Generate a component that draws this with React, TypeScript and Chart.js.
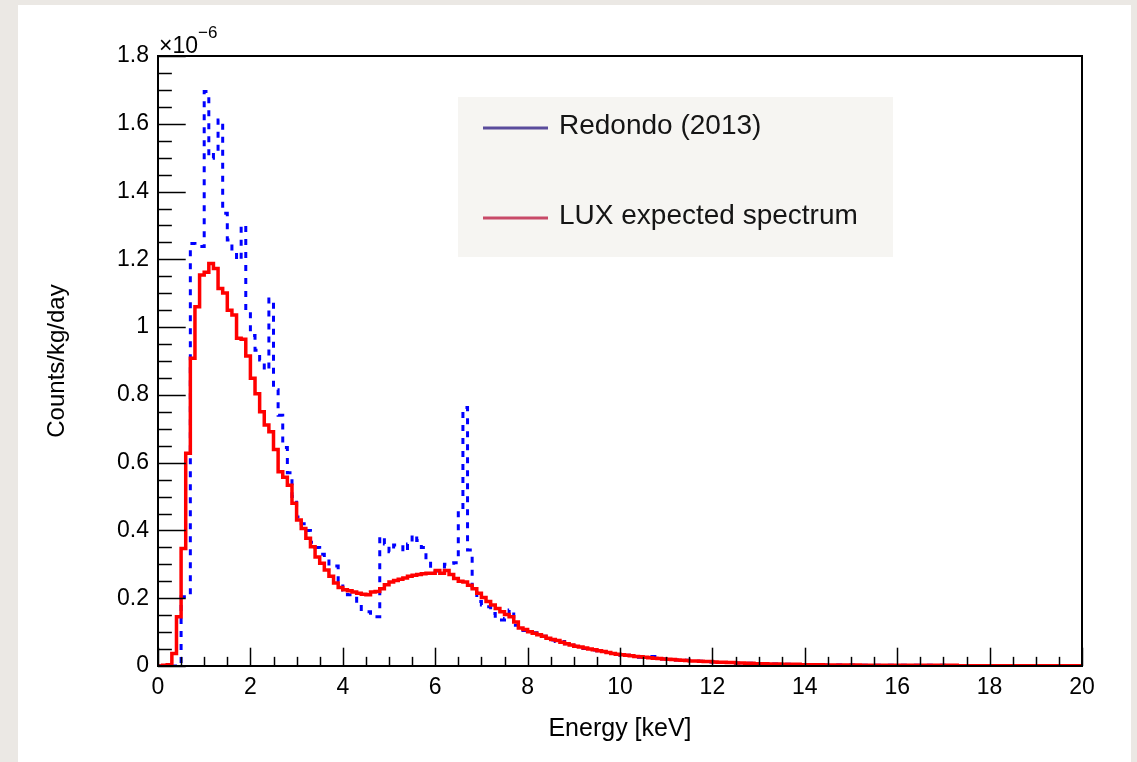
import React, { useEffect, useRef } from "react";
import { Chart, registerables } from "chart.js";

Chart.register(...registerables);

const BIN_WIDTH = 0.1; // keV
const X_MIN = 0;
const X_MAX = 20;
const Y_MIN = 0;
const Y_MAX = 1.8;
const X_MAJOR = 2;
const X_MINOR = 0.5;
const Y_MAJOR = 0.2;
const Y_MINOR = 0.05;

const xTitle = "Energy [keV]";
const yTitle = "Counts/kg/day";
const legendLabels = ["Redondo (2013)", "LUX expected spectrum"];

// values in units of 1e-6 counts/kg/day, one per 0.1 keV bin starting at 0
const luxExpected = [
  0, 0.002, 0.004, 0.037, 0.145, 0.347, 0.628, 0.908, 1.06, 1.154,
  1.162, 1.188, 1.173, 1.114, 1.101, 1.05, 1.036, 0.967, 0.964, 0.915,
  0.849, 0.803, 0.75, 0.711, 0.691, 0.639, 0.573, 0.557, 0.533, 0.48,
  0.431, 0.406, 0.377, 0.352, 0.322, 0.303, 0.283, 0.265, 0.245, 0.232,
  0.225, 0.222, 0.218, 0.215, 0.212, 0.21, 0.218, 0.22, 0.228, 0.24,
  0.248, 0.252, 0.256, 0.26, 0.265, 0.268, 0.27, 0.272, 0.274, 0.274,
  0.282, 0.274, 0.282, 0.27, 0.258, 0.25, 0.248, 0.238, 0.228, 0.215,
  0.202, 0.19, 0.18, 0.17, 0.16, 0.152, 0.145, 0.13, 0.112, 0.108,
  0.101, 0.097, 0.092, 0.088, 0.082, 0.078, 0.075, 0.07, 0.066, 0.062,
  0.058, 0.056, 0.053, 0.05, 0.048, 0.045, 0.043, 0.04, 0.037, 0.035,
  0.033, 0.032, 0.03, 0.028, 0.027, 0.026, 0.024, 0.023, 0.022, 0.021,
  0.02, 0.019, 0.018, 0.017, 0.016, 0.015, 0.015, 0.014, 0.013, 0.013,
  0.012, 0.011, 0.011, 0.01, 0.01, 0.009, 0.009, 0.008, 0.008, 0.007,
  0.007, 0.007, 0.006, 0.006, 0.006, 0.005, 0.005, 0.005, 0.005, 0.004,
  0.004, 0.004, 0.004, 0.004, 0.003, 0.003, 0.003, 0.003, 0.003, 0.003,
  0.003, 0.003, 0.002, 0.002, 0.002, 0.002, 0.002, 0.002, 0.002, 0.002,
  0.002, 0.002, 0.002, 0.002, 0.002, 0.002, 0.002, 0.002, 0.002, 0.002,
  0.002, 0.002, 0.002, 0.001, 0.001, 0.001, 0.001, 0.001, 0.001, 0.001,
  0.001, 0.001, 0.001, 0.001, 0.001, 0.001, 0.001, 0.001, 0.001, 0.001,
  0.001, 0.001, 0.001, 0.001, 0.001, 0.001, 0.001, 0.001, 0.001, 0.001,
];

const redondo2013 = [
  0, 0, 0, 0, 0, 0.204, 0.204, 1.247, 1.24, 1.238,
  1.695, 1.498, 1.515, 1.611, 1.336, 1.257, 1.223, 1.198, 1.301, 1.045,
  0.975, 0.932, 0.903, 0.873, 1.083, 0.815, 0.74, 0.645, 0.57, 0.5,
  0.44, 0.42, 0.4, 0.365, 0.35, 0.33, 0.32, 0.295, 0.295, 0.25,
  0.224, 0.21, 0.2, 0.18, 0.16, 0.16, 0.15, 0.145, 0.382, 0.36,
  0.337, 0.357, 0.357, 0.337, 0.36, 0.387, 0.37, 0.35, 0.313, 0.288,
  0.28, 0.28, 0.3, 0.303, 0.305, 0.46, 0.763, 0.342, 0.222, 0.19,
  0.18, 0.175, 0.155, 0.136, 0.136, 0.14, 0.165, 0.12, 0.112, 0.105,
  0.1, 0.098, 0.095, 0.088, 0.083, 0.077, 0.072, 0.072, 0.066, 0.061,
  0.058, 0.058, 0.052, 0.049, 0.047, 0.045, 0.042, 0.04, 0.038, 0.034,
  0.032, 0.032, 0.031, 0.027, 0.026, 0.027, 0.028, 0.028, 0.025, 0.021,
  0.02, 0.019, 0.018, 0.016, 0.017, 0.016, 0.014, 0.014, 0.013, 0.012,
  0.012, 0.012, 0.01, 0.01, 0.01, 0.009, 0.009, 0.008, 0.008, 0.007,
  0.007, 0.006, 0.006, 0.006, 0.006, 0.005, 0.005, 0.005, 0.004, 0.004,
  0.004, 0.004, 0.004, 0.003, 0.003, 0.003, 0.003, 0.003, 0.003, 0.003,
  0.003, 0.002, 0.002, 0.002, 0.002, 0.002, 0.002, 0.002, 0.002, 0.002,
  0.002, 0.002, 0.002, 0.002, 0.002, 0.002, 0.002, 0.002, 0.002, 0.002,
  0.002, 0.002, 0.001, 0.001, 0.001, 0.001, 0.001, 0.001, 0.001, 0.001,
  0.001, 0.001, 0.001, 0.001, 0.001, 0.001, 0.001, 0.001, 0.001, 0.001,
  0.001, 0.001, 0.001, 0.001, 0.001, 0.001, 0.001, 0.001, 0.001, 0.001,
];

const FONT = "'Liberation Sans', Arial, Helvetica, sans-serif";

function toSteps(values: number[]) {
  const pts = values.map((v, i) => ({ x: i * BIN_WIDTH, y: v }));
  pts.push({ x: values.length * BIN_WIDTH, y: values[values.length - 1] });
  return pts;
}

const rootFramePlugin = {
  id: "rootFrame",
  beforeDraw(chart: any) {
    const { ctx } = chart;
    ctx.save();
    ctx.fillStyle = "#f6f5f2";
    ctx.fillRect(458, 97, 435, 160);
    ctx.restore();
  },
  afterDatasetsDraw(chart: any) {
    const { ctx, chartArea, scales } = chart;
    const xs = scales.x;
    const ys = scales.y;
    const { left, right, top, bottom } = chartArea;
    const w = right - left;
    const h = bottom - top;
    ctx.save();
    ctx.strokeStyle = "#000";
    ctx.lineWidth = 1.5;
    const nY = Math.round((Y_MAX - Y_MIN) / Y_MINOR);
    for (let i = 0; i <= nY; i++) {
      const v = Y_MIN + i * Y_MINOR;
      const py = Math.round(ys.getPixelForValue(v)) + 0.5;
      const major = i % Math.round(Y_MAJOR / Y_MINOR) === 0;
      const len = major ? w * 0.03 : w * 0.015;
      ctx.beginPath();
      ctx.moveTo(left, py);
      ctx.lineTo(left + len, py);
      ctx.stroke();
    }
    const nX = Math.round((X_MAX - X_MIN) / X_MINOR);
    for (let i = 0; i <= nX; i++) {
      const v = X_MIN + i * X_MINOR;
      const px = Math.round(xs.getPixelForValue(v)) + 0.5;
      const major = i % Math.round(X_MAJOR / X_MINOR) === 0;
      const len = major ? h * 0.03 : h * 0.015;
      ctx.beginPath();
      ctx.moveTo(px, bottom);
      ctx.lineTo(px, bottom - len);
      ctx.stroke();
    }
    ctx.lineWidth = 2;
    ctx.strokeRect(left, top, w, h);

    // exponent label
    ctx.fillStyle = "#000";
    ctx.textBaseline = "alphabetic";
    ctx.textAlign = "left";
    ctx.font = `23px ${FONT}`;
    ctx.fillText("\u00d710", left + 1, top - 3);
    const wx = ctx.measureText("\u00d710").width;
    ctx.font = `17px ${FONT}`;
    ctx.fillText("\u22126", left + 1 + wx, top - 18);

    // axis titles
    ctx.font = `25px ${FONT}`;
    ctx.textAlign = "center";
    ctx.textBaseline = "middle";
    ctx.fillText(xTitle, (left + right) / 2, 729);
    ctx.save();
    ctx.translate(57, (top + bottom) / 2);
    ctx.rotate(-Math.PI / 2);
    ctx.font = `24px ${FONT}`;
    ctx.fillText(yTitle, 0, 0);
    ctx.restore();

    // legend
    const colors = ["#5a4c9c", "#c84a68"];
    const rows = [128, 218];
    ctx.font = `28px ${FONT}`;
    ctx.textAlign = "left";
    ctx.textBaseline = "middle";
    rows.forEach((yy, i) => {
      ctx.strokeStyle = colors[i];
      ctx.lineWidth = 3;
      ctx.beginPath();
      ctx.moveTo(483, yy);
      ctx.lineTo(548, yy);
      ctx.stroke();
      ctx.fillStyle = "#151515";
      ctx.fillText(legendLabels[i], 559, yy - 2);
    });
    ctx.restore();
  },
};

export default function App() {
  const ref = useRef<HTMLCanvasElement | null>(null);
  useEffect(() => {
    if (!ref.current) return;
    const chart = new Chart(ref.current, {
      type: "line",
      data: {
        datasets: [
          {
            label: legendLabels[1],
            data: toSteps(luxExpected),
            borderColor: "#ff0000",
            borderWidth: 3.5,
            stepped: "before",
            pointRadius: 0,
            fill: false,
            order: 0,
          },
          {
            label: legendLabels[0],
            data: toSteps(redondo2013),
            borderColor: "#0000ff",
            borderWidth: 3,
            borderDash: [6, 7],
            stepped: "before",
            pointRadius: 0,
            fill: false,
            order: 1,
          },
        ],
      },
      options: {
        responsive: false,
        animation: false,
        devicePixelRatio: 1,
        layout: { padding: { top: 56, right: 55, left: 0, bottom: 0 } },
        plugins: {
          legend: { display: false },
          tooltip: { enabled: false },
          title: { display: false },
        },
        scales: {
          x: {
            type: "linear",
            min: X_MIN,
            max: X_MAX,
            grid: { display: false },
            border: { display: false },
            ticks: {
              stepSize: X_MAJOR,
              color: "#000",
              font: { family: FONT, size: 23 },
              padding: 0,
              maxRotation: 0,
              autoSkip: false,
            },
            afterFit: (s: any) => {
              s.height = 96;
            },
          },
          y: {
            type: "linear",
            min: Y_MIN,
            max: Y_MAX,
            grid: { display: false },
            border: { display: false },
            ticks: {
              stepSize: Y_MAJOR,
              color: "#000",
              font: { family: FONT, size: 23 },
              padding: 1,
              callback: (v: any) => {
                const n = Number(v);
                if (Math.abs(n) < 1e-9) return "0";
                if (Math.abs(n - Math.round(n)) < 1e-9) return String(Math.round(n));
                return n.toFixed(1);
              },
            },
            afterFit: (s: any) => {
              s.width = 158;
            },
          },
        },
      },
      plugins: [rootFramePlugin],
    });
    return () => chart.destroy();
  }, []);

  return (
    <div
      style={{
        position: "absolute",
        left: 0,
        top: 0,
        width: 1137,
        height: 762,
        background: "#ebe8e4",
        overflow: "hidden",
      }}
    >
      <div
        style={{
          position: "absolute",
          left: 18,
          top: 5,
          width: 1113,
          height: 757,
          background: "#ffffff",
        }}
      />
      <canvas
        ref={ref}
        width={1137}
        height={762}
        style={{ position: "absolute", left: 0, top: 0, width: 1137, height: 762 }}
      />
    </div>
  );
}
